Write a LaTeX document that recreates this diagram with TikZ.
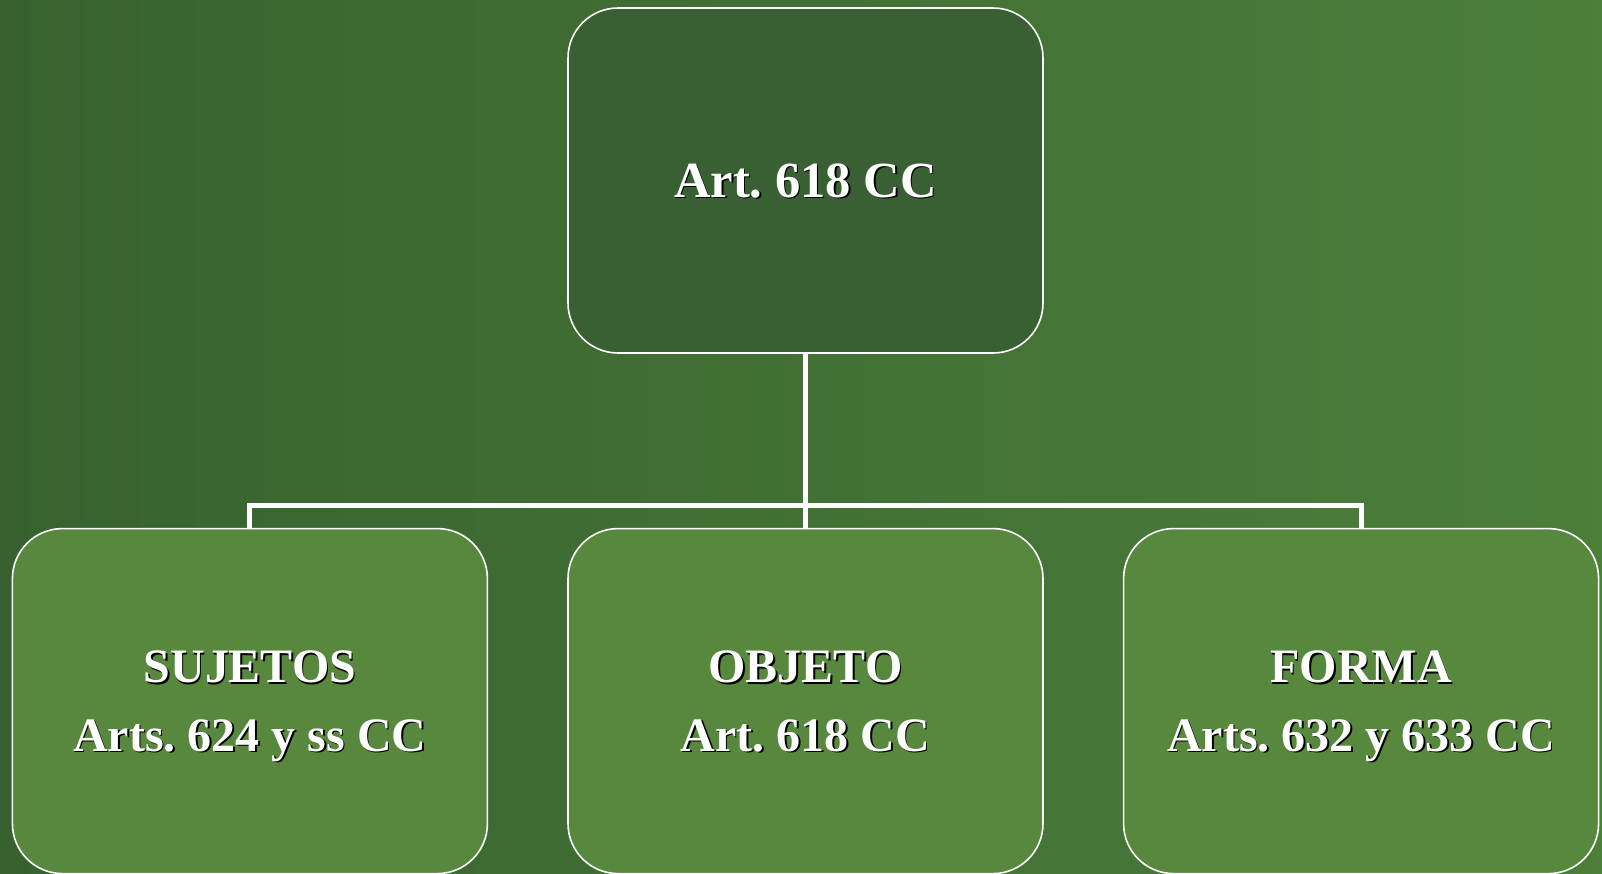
\documentclass[tikz,border=0pt]{standalone}
\usepackage{fontspec}
\setmainfont{Liberation Serif}
\usepackage{xcolor}
\usetikzlibrary{positioning}

\definecolor{bgdark}{HTML}{37622F}
\definecolor{bgedge}{HTML}{3A6533}
\definecolor{bglight}{HTML}{578D40}
\definecolor{topfill}{HTML}{396032}
\definecolor{childfill}{HTML}{57883E}

\pgfdeclarehorizontalshading{slidebg}{100bp}{
  color(0bp)=(bgedge); color(25bp)=(bgdark); color(100bp)=(bglight)}

% white text with a small black drop shadow
\newcommand\shd[1]{\raisebox{0pt}[\height][0pt]{\rlap{\kern0.8pt\raisebox{-0.8pt}{\color{black}#1}}#1}}

\begin{document}
\frenchspacing
\begin{tikzpicture}[
  box/.style={rectangle, rounded corners=1cm, draw=white, line width=0.9pt,
              text=white, align=center, minimum width=9.5cm, minimum height=6.9cm,
              font=\fontsize{27.3}{39}\selectfont\bfseries\frenchspacing},
  head/.style={box, fill=topfill, font=\fontsize{28.8}{39}\selectfont\bfseries\frenchspacing},
  part/.style={box, fill=childfill},
  conn/.style={draw=white, line width=2.8pt}
]
\useasboundingbox (0,0) rectangle (32.04,-17.46);
\shade[shading=slidebg] (0,0) rectangle (32.04,-17.46);

\node[head] (top) at (16.11,-3.61) {\shd{Art. 618 CC}};
\node[part, below=3.48cm of top] (objeto) {\shd{OBJETO}\\\shd{Art. 618 CC}};
\node[part, left=1.58cm of objeto] (sujetos) {\shd{SUJETOS}\\\shd{Arts. 624 y ss CC}};
\node[part, right=1.58cm of objeto] (forma) {\shd{FORMA}\\\shd{Arts. 632 y 633 CC}};

\draw[conn] (top) -- (objeto);
\draw[conn] (sujetos.north) -- ++(0,0.44) -| (forma.north);
\end{tikzpicture}
\end{document}
